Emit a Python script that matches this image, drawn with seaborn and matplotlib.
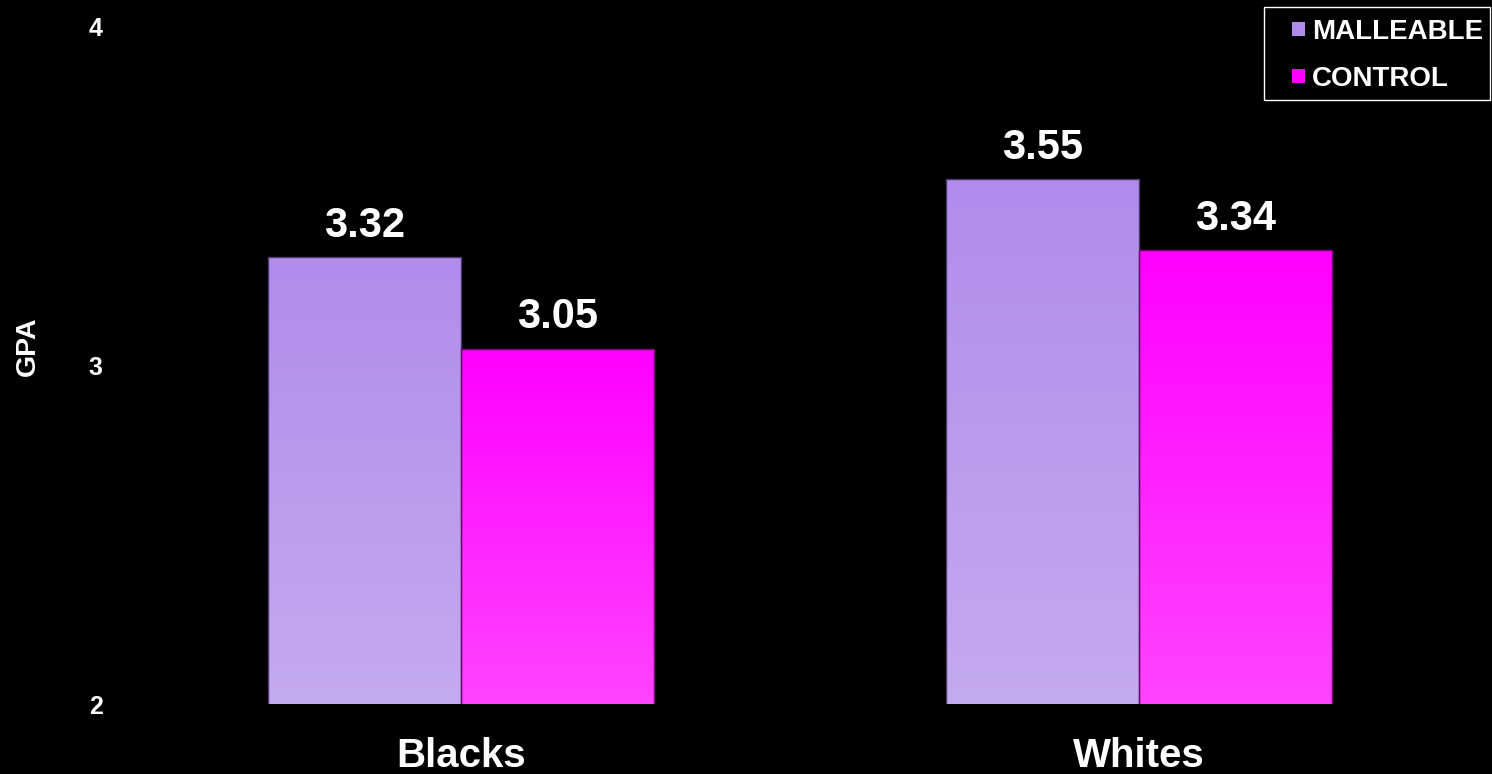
import numpy as np
import pandas as pd
import matplotlib
matplotlib.use("Agg")
import matplotlib.pyplot as plt
import matplotlib.colors as mcolors
from matplotlib.patches import Patch, Rectangle
import seaborn as sns

# ---- data ----
categories = ["Blacks", "Whites"]
groups = ["MALLEABLE", "CONTROL"]
malleable = [3.32, 3.55]
control = [3.05, 3.34]
yticks = [2, 3, 4]

top_colors = {"MALLEABLE": "#B08CEC", "CONTROL": "#FF00FF"}
bottom_colors = {"MALLEABLE": "#C4AAEF", "CONTROL": "#FF44FF"}
edge_colors = {"MALLEABLE": "#4A3A6A", "CONTROL": "#7A007A"}

df = pd.DataFrame({
    "cat": categories * 2,
    "grp": [groups[0]] * len(categories) + [groups[1]] * len(categories),
    "val": malleable + control,
})

sns.set_theme(style="white")
plt.rcParams["font.family"] = ["Liberation Sans", "DejaVu Sans"]

W, H = 1492, 774
fig = plt.figure(figsize=(W / 100, H / 100), dpi=100, facecolor="black")
ax = fig.add_axes([115 / W, 70 / H, (1485 - 115) / W, (747 - 70) / H])
ax.set_facecolor("black")

sns.barplot(data=df, x="cat", y="val", hue="grp", order=categories,
            hue_order=groups, palette=top_colors, width=0.57, ax=ax,
            legend=False, saturation=1, edgecolor="#4A3A6A", linewidth=1)

ax.set_ylim(2, 4)
ax.set_xlim(-0.51, 1.51)

# gradient fill clipped to each bar
bars = [p for p in ax.patches]
grad = np.linspace(0, 1, 256).reshape(-1, 1)
for i, p in enumerate(bars):
    g = groups[i // len(categories)]
    cmap = mcolors.LinearSegmentedColormap.from_list(
        "g", [bottom_colors[g], top_colors[g]])
    x0 = p.get_x()
    w = p.get_width()
    h = p.get_height()
    p.set_edgecolor(edge_colors[g])
    im = ax.imshow(grad, extent=[x0, x0 + w, 2, h], origin="lower",
                   aspect="auto", cmap=cmap, zorder=p.get_zorder() - 0.1)
    im.set_clip_path(p)
    p.set_facecolor("none")
    ax.text(x0 + w / 2, h + 0.033, f"{h:.2f}", ha="center", va="bottom",
            color="white", fontsize=30, fontweight="bold")

ax.set_ylim(2, 4)
ax.set_xlim(-0.51, 1.51)

for s in ax.spines.values():
    s.set_visible(False)

ax.set_yticks(yticks)
ax.set_yticklabels([str(t) for t in yticks], color="white", fontsize=18,
                   fontweight="bold")
ax.tick_params(axis="y", length=0, pad=9)
ax.tick_params(axis="x", length=0, pad=24)
ax.set_xticks(range(len(categories)))
ax.set_xticklabels(categories, color="white", fontsize=29, fontweight="bold")
ax.set_xlabel("")
ax.set_ylabel("GPA", color="white", fontsize=20.5, fontweight="bold")
ax.yaxis.label.set_va("center")
ax.yaxis.set_label_coords((28 - 115) / 1370, (H - 346 - 70) / 677)

# legend frame
fig.patches.append(Rectangle((1264 / W, 1 - 100 / H), (1490 - 1264) / W,
                             (100 - 7) / H, transform=fig.transFigure,
                             facecolor="black", edgecolor="white",
                             linewidth=1, zorder=1))
handles = [Patch(facecolor=top_colors[g], edgecolor="none") for g in groups]
leg = fig.legend(handles, groups, loc="upper left",
                 bbox_to_anchor=(1292 / W, 1 - 19 / H),
                 frameon=False,
                 handlelength=0.47, handleheight=0.43, handletextpad=0.25,
                 borderpad=0, labelspacing=0.75, borderaxespad=0,
                 prop={"family": "Liberation Sans", "weight": "bold", "size": 20})
leg.set_zorder(3)
for t in leg.get_texts():
    t.set_color("white")

fig.savefig("out.png", dpi=100, facecolor="black")
